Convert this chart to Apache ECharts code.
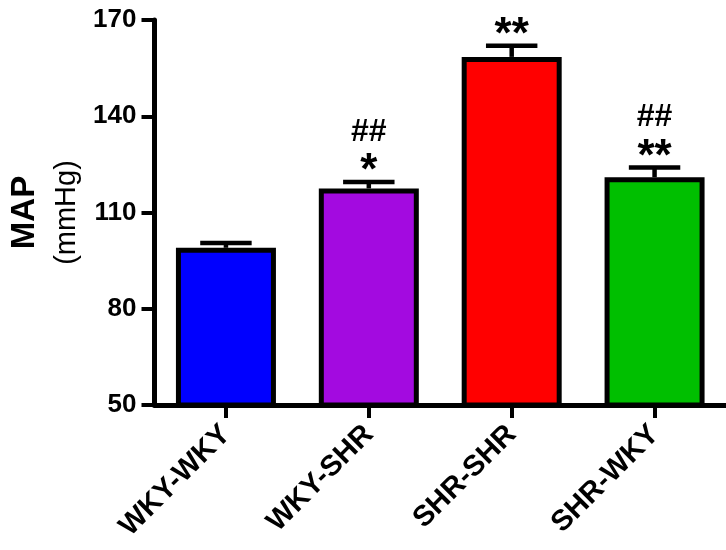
<!DOCTYPE html>
<html>
<head>
<meta charset="utf-8">
<script src="https://cdn.jsdelivr.net/npm/echarts@6/dist/echarts.min.js"></script>
<style>
html,body{margin:0;padding:0;background:#fff;}
#chart{width:726px;height:550px;}
</style>
</head>
<body>
<div id="chart"></div>
<script>
// ---- data ----
const categories = ['WKY-WKY', 'WKY-SHR', 'SHR-SHR', 'SHR-WKY'];
const means = [99, 117.5, 158.5, 121];
const sems = [1.5, 2, 3.5, 3];
const hashMarks = ['', '##', '', '##'];
const starMarks = ['', '*', '**', '**'];
const barColors = ['#0000FF', '#A30AE0', '#FF0000', '#00BF00'];
const yMin = 50, yMax = 170, yInterval = 30;

const FONT = '"Liberation Sans", Arial, Helvetica, sans-serif';

const chart = echarts.init(document.getElementById('chart'), null, {renderer: 'canvas'});

const option = {
  backgroundColor: '#ffffff',
  animation: false,
  grid: {left: 154, right: -3, top: 20, bottom: 145, containLabel: false},
  xAxis: {
    type: 'category',
    data: categories,
    axisLine: {lineStyle: {color: '#000', width: 5}},
    axisTick: {show: true, alignWithLabel: true, length: 13, lineStyle: {color: '#000', width: 4}},
    axisLabel: {
      rotate: 45, margin: 25, color: '#000',
      fontFamily: FONT, fontWeight: 'bold', fontSize: 29, interval: 0
    }
  },
  yAxis: {
    type: 'value',
    min: yMin, max: yMax, interval: yInterval,
    splitLine: {show: false},
    axisLine: {show: true, lineStyle: {color: '#000', width: 5}},
    axisTick: {show: true, length: 13, lineStyle: {color: '#000', width: 4}},
    axisLabel: {margin: 18, color: '#000', fontFamily: FONT, fontWeight: 'bold', fontSize: 26},
    name: '{a|MAP}\n{b|(mmHg)}',
    nameLocation: 'middle',
    nameRotate: 90,
    nameGap: 67,
    nameTextStyle: {
      color: '#000', fontFamily: FONT,
      rich: {
        a: {fontSize: 33, fontWeight: 'bold', lineHeight: 42, fontFamily: FONT, color: '#000'},
        b: {fontSize: 29, fontWeight: 'normal', lineHeight: 42, fontFamily: FONT, color: '#000'}
      }
    }
  },
  series: [
    {
      type: 'bar',
      barWidth: 100,
      data: means.map((v, i) => ({
        value: v,
        itemStyle: {color: barColors[i], borderColor: '#000', borderWidth: 5}
      })),
      z: 2
    },
    {
      type: 'custom',
      z: 3,
      data: means.map((v, i) => [i, v, v + sems[i]]),
      renderItem: function (params, api) {
        const i = api.value(0);
        const top = api.coord([i, api.value(1)]);
        const hi = api.coord([i, api.value(2)]);
        const half = api.size([1, 0])[0] * 0.18;
        const k = params.dataIndex;
        const children = [
          {type: 'line', shape: {x1: top[0], y1: top[1], x2: hi[0], y2: hi[1]},
           style: {stroke: '#000', lineWidth: 4.5}},
          {type: 'line', shape: {x1: hi[0] - half, y1: hi[1], x2: hi[0] + half, y2: hi[1]},
           style: {stroke: '#000', lineWidth: 4.5}}
        ];
        if (starMarks[k]) {
          children.push({
            type: 'text',
            style: {
              text: starMarks[k], x: hi[0], y: hi[1] - 10,
              align: 'center', verticalAlign: 'middle',
              font: 'bold 44px ' + FONT, fill: '#000'
            }
          });
        }
        if (hashMarks[k]) {
          children.push({
            type: 'text',
            style: {
              text: hashMarks[k], x: hi[0], y: hi[1] - 50,
              align: 'center', verticalAlign: 'middle',
              font: 'bold 32px ' + FONT, fill: '#000'
            }
          });
        }
        return {type: 'group', children: children};
      }
    }
  ]
};
chart.setOption(option);
</script>
</body>
</html>
